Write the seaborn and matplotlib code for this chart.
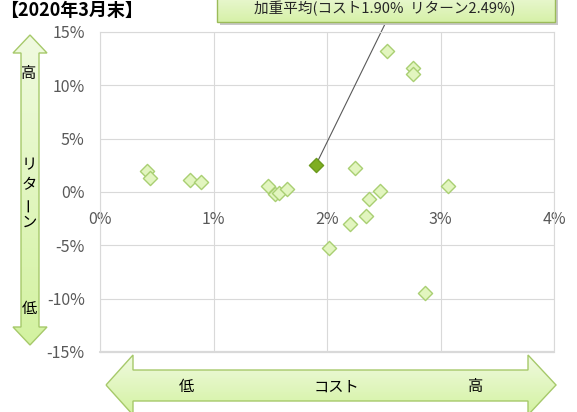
import numpy as np
import pandas as pd
import matplotlib
matplotlib.use("Agg")
import matplotlib.pyplot as plt
import seaborn as sns
from matplotlib.patches import Polygon, FancyBboxPatch
from matplotlib.ticker import FuncFormatter

# ---- data (percent) ----
cost = [0.41, 0.44, 0.79, 0.89, 1.48, 1.54, 1.58, 1.65, 2.53, 2.76, 2.76,
        2.25, 3.07, 2.47, 2.37, 2.34, 2.20, 2.02, 2.86]
ret = [2.00, 1.28, 1.12, 0.91, 0.59, -0.22, -0.06, 0.28, 13.2, 11.65, 11.1,
       2.28, 0.56, 0.12, -0.66, -2.25, -3.03, -5.28, -9.44]
avg_cost = [1.90]
avg_ret = [2.49]
x_ticks = [0, 1, 2, 3, 4]
y_ticks = [-15, -10, -5, 0, 5, 10, 15]
title = "【2020年3月末】"
callout = "加重平均(コスト1.90%  リターン2.49%)"

sns.set_style("white")
plt.rcParams['font.family'] = ['Noto Sans CJK JP', 'DejaVu Sans']

W, H = 577, 412
fig = plt.figure(figsize=(W / 100, H / 100), dpi=100)

L, R, T, B = 100, 554, 32, 352
ax = fig.add_axes([L / W, 1 - B / H, (R - L) / W, (B - T) / H])

df = pd.DataFrame({"cost": cost, "ret": ret})
dfa = pd.DataFrame({"cost": avg_cost, "ret": avg_ret})
sns.scatterplot(data=df, x="cost", y="ret", ax=ax, marker="D", s=52,
                color="#e2f5bf", edgecolor="#a9cf72", linewidth=1.0, zorder=3)
sns.scatterplot(data=dfa, x="cost", y="ret", ax=ax, marker="D", s=52,
                color="#7fae22", edgecolor="#6b9a1c", linewidth=1.0, zorder=4)

ax.set_xlim(0, 4)
ax.set_ylim(-15, 15)
ax.set_xticks(x_ticks)
ax.set_yticks(y_ticks)
fmt = FuncFormatter(lambda v, p: f"{v:.0f}%")
ax.xaxis.set_major_formatter(fmt)
ax.yaxis.set_major_formatter(fmt)
ax.set_xlabel("")
ax.set_ylabel("")
ax.grid(True, color="#d9d9d9", linewidth=0.8)
ax.set_axisbelow(True)
for s in ["top", "right", "left"]:
    ax.spines[s].set_color("#d9d9d9")
    ax.spines[s].set_linewidth(0.8)
ax.spines["bottom"].set_position(("data", 0))
ax.spines["bottom"].set_visible(False)
ax.axhline(-15, color="#d9d9d9", linewidth=1.6, zorder=1, clip_on=False)
ax.tick_params(axis="both", length=0, labelsize=11.5, labelcolor="#595959")
ax.tick_params(axis="x", pad=14)
ax.tick_params(axis="y", pad=11)

# overlay in pixel coordinates
ov = fig.add_axes([0, 0, 1, 1], facecolor="none")
ov.set_xlim(0, W)
ov.set_ylim(H, 0)
ov.axis("off")


def grad_poly(pts, c_top, c_bot, edge):
    pts = np.array(pts, float)
    poly = Polygon(pts, closed=True, facecolor="none", edgecolor=edge, linewidth=1.0, zorder=3)
    ov.add_patch(poly)
    x0, x1 = pts[:, 0].min(), pts[:, 0].max()
    y0, y1 = pts[:, 1].min(), pts[:, 1].max()
    c1 = np.array(matplotlib.colors.to_rgb(c_top))
    c2 = np.array(matplotlib.colors.to_rgb(c_bot))
    t = np.linspace(0, 1, 100)
    img = (c1[None, :] * (1 - t[:, None]) + c2[None, :] * t[:, None])[:, None, :]
    im = ov.imshow(img, extent=(x0, x1, y1, y0), aspect="auto", zorder=2, interpolation="bilinear")
    clip = Polygon(pts, closed=True, transform=ov.transData)
    im.set_clip_path(clip)
    ov.set_xlim(0, W)
    ov.set_ylim(H, 0)


# left vertical arrow
grad_poly([(30, 35), (47, 53), (39, 53), (39, 327), (47, 327), (30, 345),
           (13, 327), (21, 327), (21, 53), (13, 53)],
          "#f0fae0", "#d3f2a0", "#a6c96a")
# bottom horizontal arrow
grad_poly([(106, 385), (133, 355), (133, 370), (528, 370), (528, 355), (556, 385),
           (528, 415), (528, 401), (133, 401), (133, 415)],
          "#f0fae0", "#d3f2a0", "#a6c96a")

ov.text(29, 73, "高", ha="center", va="center", fontsize=11, color="black")
ov.text(29, 308, "低", ha="center", va="center", fontsize=11, color="black")
ov.text(29, 165, "リ", ha="center", va="center", fontsize=11, color="black")
ov.text(29, 185, "タ", ha="center", va="center", fontsize=11, color="black")
ov.text(29, 204, "ー", ha="center", va="center", fontsize=11, color="black", rotation=90)
ov.text(29, 222, "ン", ha="center", va="center", fontsize=11, color="black")

ov.text(186, 387, "低", ha="center", va="center", fontsize=11, color="black")
ov.text(336, 387, "コスト", ha="center", va="center", fontsize=11, color="black")
ov.text(476, 387, "高", ha="center", va="center", fontsize=11, color="black")

# title
ov.text(0, 1, title, ha="left", va="top", fontsize=13, fontweight="bold", color="black")

# callout box with shadow
ov.add_patch(FancyBboxPatch((220, -12), 338, 37, boxstyle="square,pad=0",
                            facecolor="#c8c8c8", edgecolor="none", zorder=1))
grad_poly([(217, -15), (555, -15), (555, 22), (217, 22)], "#f3fbe6", "#d6f1a8", "#9bbb59")
ov.text(385, 8, callout, ha="center", va="center", fontsize=10.5, color="#262626", zorder=5)

# leader line
ax.annotate("", xy=(avg_cost[0], avg_ret[0]), xycoords="data",
            xytext=(386 / W, 1 - 22 / H), textcoords="figure fraction",
            arrowprops=dict(arrowstyle="-", color="#595959", lw=0.8,
                            shrinkA=0, shrinkB=0), zorder=2)

fig.savefig("out.png", dpi=100)
